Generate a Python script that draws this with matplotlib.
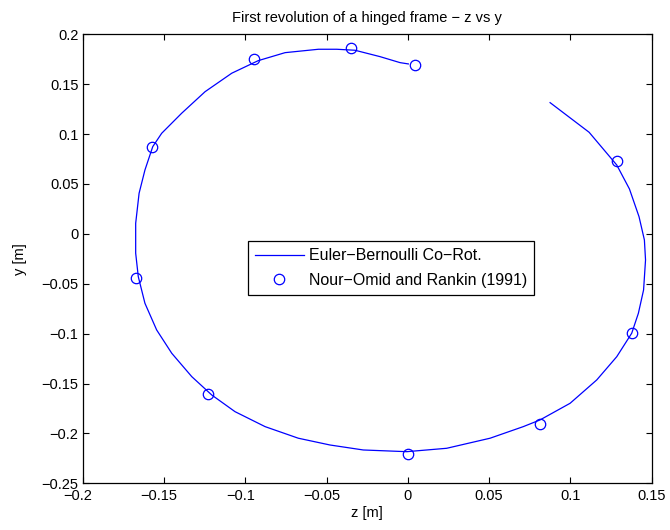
import matplotlib
matplotlib.use("Agg")
import matplotlib.pyplot as plt
from matplotlib.transforms import ScaledTranslation

plt.rcParams['font.family'] = ['Liberation Sans', 'DejaVu Sans']

# Euler-Bernoulli co-rotational solution (z, y)
line_z = [0.0875, 0.1115, 0.1285, 0.1363, 0.1422, 0.1455, 0.1462, 0.1450, 0.1418,
          0.1377, 0.1285, 0.1162, 0.0998, 0.0813, 0.0710, 0.0506, 0.0239, -0.0007,
          -0.0274, -0.0479, -0.0674, -0.0878, -0.1063, -0.1206, -0.1329, -0.1452,
          -0.1545, -0.1617, -0.1658, -0.1674, -0.1674, -0.1653, -0.1617, -0.1569,
          -0.1514, -0.1391, -0.1247, -0.1083, -0.0920, -0.0755, -0.0550, -0.0437,
          -0.0325, -0.0171, -0.0048, 0.0003]
line_y = [0.1315, 0.1018, 0.0690, 0.0450, 0.0172, -0.0061, -0.0262, -0.0562, -0.0796,
          -0.0996, -0.1231, -0.1464, -0.1698, -0.1865, -0.1932, -0.2048, -0.2149, -0.2183,
          -0.2166, -0.2116, -0.2048, -0.1932, -0.1782, -0.1615, -0.1431, -0.1197,
          -0.0963, -0.0696, -0.0429, -0.0194, 0.0106, 0.0407, 0.0640, 0.0874,
          0.1008, 0.1209, 0.1425, 0.1610, 0.1736, 0.1816, 0.1850, 0.1850,
          0.1840, 0.1776, 0.1716, 0.1703]

# Nour-Omid and Rankin (1991) reference points
ref_z = [0.0044, -0.0349, -0.0946, -0.1572, -0.1672, -0.1227, 0.0003, 0.0815, 0.1380, 0.1285]
ref_y = [0.1690, 0.1860, 0.1753, 0.0874, -0.0445, -0.1605, -0.2206, -0.1908, -0.0996, 0.0734]

xticks = [-0.2, -0.15, -0.1, -0.05, 0, 0.05, 0.1, 0.15]
yticks = [-0.25, -0.2, -0.15, -0.1, -0.05, 0, 0.05, 0.1, 0.15, 0.2]

def fmt(v):
    s = ('%g' % v)
    return s.replace('-', '\u2212')

fig = plt.figure(figsize=(6.7, 5.3), dpi=100)
ax = fig.add_axes([0.1234, 0.0881, 0.8493, 0.8472])

ax.plot(line_z, line_y, color='#0000ff', lw=0.9, label='Euler\u2212Bernoulli Co\u2212Rot.')
ax.plot(ref_z, ref_y, linestyle='none', marker='o', ms=7.5, mfc='none', mec='#0000ff',
        mew=0.9, label='Nour\u2212Omid and Rankin (1991)')

ax.set_xlim(-0.2, 0.15)
ax.set_ylim(-0.25, 0.2)
ax.set_xticks(xticks)
ax.set_xticklabels([fmt(v) for v in xticks])
ax.set_yticks(yticks)
ax.set_yticklabels([fmt(v) for v in yticks])
ax.tick_params(direction='in', length=4.5, width=0.8, top=True, right=True,
               labelsize=10.5, pad=3)
ax.tick_params(axis='x', pad=4)
for s in ax.spines.values():
    s.set_linewidth(0.9)

# MATLAB-like placement: negative x tick labels sit slightly left of their ticks
shift = ScaledTranslation(-5 / 100, 0, fig.dpi_scale_trans)
for v, lab in zip(xticks, ax.get_xticklabels()):
    if v < 0:
        lab.set_transform(lab.get_transform() + shift)

ax.set_xlabel('z [m]', fontsize=10.5, labelpad=2)
ax.set_ylabel('y [m]', fontsize=10.5, labelpad=10)
ax.set_title('First revolution of a hinged frame \u2212 z vs y', fontsize=10.5, pad=9)

leg = ax.legend(loc='center', bbox_to_anchor=(0.5836, 0.4943), bbox_transform=fig.transFigure,
                fontsize=11.5, fancybox=False, framealpha=1, edgecolor='black',
                handlelength=3.1, handletextpad=0.3, borderpad=0.45, labelspacing=0.6)
leg.get_frame().set_linewidth(0.9)

fig.savefig('out.png', dpi=100)
